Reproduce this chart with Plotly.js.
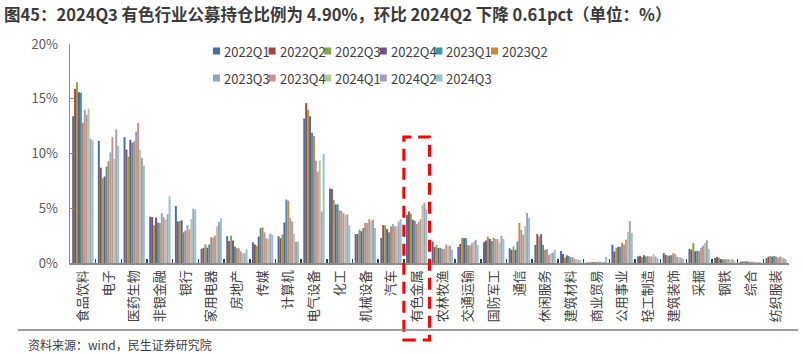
<!DOCTYPE html>
<html>
<head>
<meta charset="utf-8">
<script src="https://cdn.plot.ly/plotly-3.0.1.min.js"></script>
<style>
  html, body { margin: 0; padding: 0; background: #ffffff; }
  #chart { width: 803px; height: 354px; }
</style>
</head>
<body>
<div id="chart"></div>
<script>
// ---------- data ----------
const categories = ['食品饮料','电子','医药生物','非银金融','银行','家用电器','房地产','传媒','计算机','电气设备','化工','机械设备','汽车','有色金属','农林牧渔','交通运输','国防军工','通信','休闲服务','建筑材料','商业贸易','公用事业','轻工制造','建筑装饰','采掘','钢铁','综合','纺织服装'];

const seriesNames = ['2022Q1','2022Q2','2022Q3','2022Q4','2023Q1','2023Q2','2023Q3','2023Q4','2024Q1','2024Q2','2024Q3'];

const s2022Q1 = [13.4, 11.15, 11.5, 4.23, 5.2, 1.3, 2.45, 1.9, 2.45, 13.2, 6.8, 2.65, 2.27, 4.4, 1.96, 1.47, 1.9, 1.35, 1.65, 1.1, 0.05, 1.67, 0.6, 0.9, 1.29, 0.46, 0.1, 0.43];
const s2022Q2 = [15.9, 8.7, 10.35, 4.2, 3.8, 1.38, 2.0, 1.7, 2.27, 14.6, 6.75, 2.65, 3.45, 4.7, 1.45, 1.75, 2.05, 1.2, 2.64, 0.83, 0.05, 1.05, 0.66, 0.75, 1.21, 0.56, 0.12, 0.58];
const s2022Q3 = [16.5, 7.75, 9.7, 3.45, 3.85, 1.7, 2.5, 1.55, 2.6, 14.0, 5.75, 3.05, 3.45, 4.5, 1.62, 2.3, 2.4, 1.5, 2.42, 0.49, 0.05, 1.36, 0.54, 0.68, 1.82, 0.47, 0.15, 0.64];
const s2022Q4 = [15.6, 7.9, 11.25, 4.15, 3.9, 1.4, 2.05, 2.4, 3.7, 13.4, 5.35, 2.9, 3.1, 3.95, 1.38, 2.27, 2.2, 1.2, 2.64, 0.7, 0.08, 1.48, 0.72, 0.68, 1.08, 0.37, 0.15, 0.58];
const s2023Q1 = [15.55, 8.8, 11.0, 3.7, 2.8, 1.7, 1.5, 3.2, 5.8, 11.9, 5.35, 3.2, 2.8, 3.85, 1.38, 2.27, 2.0, 1.96, 1.65, 0.64, 0.1, 1.48, 0.6, 0.72, 1.12, 0.32, 0.12, 0.64];
const s2023Q2 = [12.8, 9.3, 11.1, 3.65, 2.97, 2.35, 1.35, 3.25, 5.7, 11.6, 4.8, 3.65, 3.35, 3.55, 1.29, 1.65, 2.3, 3.65, 1.2, 0.55, 0.1, 1.85, 0.64, 0.9, 1.08, 0.35, 0.12, 0.58];
const s2023Q3 = [14.0, 10.1, 12.0, 4.55, 3.45, 2.33, 1.35, 2.8, 4.1, 9.35, 4.75, 3.65, 3.55, 3.75, 1.29, 1.6, 2.18, 3.04, 1.26, 0.55, 0.12, 1.7, 0.6, 0.8, 1.4, 0.35, 0.12, 0.49];
const s2023Q4 = [13.55, 11.5, 12.8, 4.17, 3.07, 2.5, 1.07, 2.25, 3.8, 8.35, 4.55, 4.0, 3.35, 4.0, 1.69, 1.8, 2.18, 2.58, 0.74, 0.37, 0.12, 2.13, 0.6, 0.56, 1.6, 0.35, 0.1, 0.58];
const s2024Q1 = [14.1, 9.5, 10.35, 3.95, 4.0, 3.35, 0.9, 2.25, 2.65, 9.35, 4.4, 3.85, 3.35, 5.3, 1.56, 1.96, 1.87, 3.4, 0.89, 0.37, 0.1, 2.85, 0.8, 0.54, 1.82, 0.28, 0.08, 0.52];
const s2024Q2 = [11.35, 12.2, 9.6, 4.45, 4.97, 3.75, 0.9, 2.7, 1.95, 4.7, 4.45, 3.95, 3.8, 5.51, 1.6, 2.1, 2.48, 4.57, 0.95, 0.28, 0.1, 3.83, 0.6, 0.5, 2.07, 0.35, 0.08, 0.43];
const s2024Q3 = [11.2, 10.7, 8.9, 6.1, 4.9, 4.08, 1.25, 2.6, 1.95, 9.95, 3.45, 3.2, 4.0, 4.90, 1.2, 1.62, 2.2, 4.1, 1.2, 0.28, 0.55, 2.75, 0.46, 0.38, 1.29, 0.2, 0.08, 0.34];

const seriesValues = [s2022Q1, s2022Q2, s2022Q3, s2022Q4, s2023Q1, s2023Q2, s2023Q3, s2023Q4, s2024Q1, s2024Q2, s2024Q3];
const yTickVals = [0, 5, 10, 15, 20];
const highlightCategory = '有色金属';

// ---------- styles ----------
const seriesColors = ['#416FA6','#A8423F','#86A44A','#6E548D','#3D96AE','#DA8137','#8EA5CB','#CE8E8D','#B5CA92','#A99BBD','#8FC3D4'];
const FONT = '"Noto Sans CJK SC", "Noto Sans", sans-serif';

const W = 803, H = 354;
const M = {l: 70, r: 14, t: 44, b: 91};
const plotW = W - M.l - M.r, plotH = H - M.t - M.b;
const px2x = px => (px - M.l) / plotW;
const py2y = py => (H - M.b - py) / plotH;

const traces = seriesNames.map((name, i) => ({
  type: 'bar',
  name: name,
  x: categories,
  y: seriesValues[i],
  marker: {color: seriesColors[i], line: {width: 0}},
  hoverinfo: 'x+y+name',
  showlegend: false
}));

// custom legend (compact swatch + text), built from the series arrays
const shapes = [];
const annotations = [];
const legendX0 = 213, legendStep = 55.6, legendRows = [51, 78], perRow = 6, sw = 7;
seriesNames.forEach((name, i) => {
  const row = Math.floor(i / perRow), col = i % perRow;
  const cx = legendX0 + col * legendStep;
  const cy = legendRows[row];
  shapes.push({
    type: 'rect', xref: 'paper', yref: 'paper',
    x0: px2x(cx), x1: px2x(cx + sw), y0: py2y(cy + sw / 2), y1: py2y(cy - sw / 2),
    fillcolor: seriesColors[i], line: {width: 0}
  });
  annotations.push({
    text: name, xref: 'paper', yref: 'paper',
    x: px2x(cx + sw + 2), y: py2y(cy), xanchor: 'left', yanchor: 'middle',
    showarrow: false, font: {family: FONT, size: 13, color: '#404040'}
  });
});

// highlight box around the category
const hi = categories.indexOf(highlightCategory);
shapes.push({
  type: 'rect', xref: 'x domain', yref: 'y domain',
  x0: hi / categories.length, x1: (hi + 1) / categories.length,
  y0: py2y(340), y1: py2y(137),
  line: {color: '#FF0000', width: 3, dash: '12px,7px'},
  fillcolor: 'rgba(0,0,0,0)', layer: 'above'
});

// bottom separator line
shapes.push({
  type: 'line', xref: 'paper', yref: 'paper',
  x0: px2x(18), x1: px2x(798), y0: py2y(330), y1: py2y(330),
  line: {color: '#7F7F7F', width: 1.5}
});

annotations.push({
  text: '资料来源：wind，民生证券研究院',
  xref: 'paper', yref: 'paper', x: px2x(26), y: py2y(344),
  xanchor: 'left', yanchor: 'middle', showarrow: false,
  font: {family: FONT, size: 12, color: '#404040'}
});

const layout = {
  width: W, height: H,
  margin: M,
  paper_bgcolor: '#ffffff', plot_bgcolor: '#ffffff',
  font: {family: FONT, color: '#404040'},
  title: {
    text: '图45：2024Q3 有色行业公募持仓比例为 4.90%，环比 2024Q2 下降 0.61pct（单位：%）',
    x: 4 / W, xref: 'container', xanchor: 'left',
    y: 1 - 15 / H, yref: 'container', yanchor: 'middle',
    font: {family: FONT, size: 16.5, color: '#3A3A3A', weight: 'bold'}
  },
  barmode: 'group',
  bargap: 0.17,
  bargroupgap: 0,
  showlegend: false,
  xaxis: {
    type: 'category',
    categoryorder: 'array', categoryarray: categories,
    range: [-0.5, categories.length - 0.5],
    tickangle: -90,
    tickfont: {family: FONT, size: 13, color: '#404040'},
    ticks: 'inside', tickson: 'boundaries', ticklen: 4, tickwidth: 1.5, tickcolor: '#404040',
    showline: true, linecolor: '#8C8C8C', linewidth: 2,
    showgrid: false, zeroline: false, fixedrange: true
  },
  yaxis: {
    range: [0, 20],
    tickvals: yTickVals,
    ticktext: yTickVals.map(v => v + '%'),
    tickfont: {family: FONT, size: 13, color: '#595959'},
    ticks: 'inside', ticklen: 4, tickwidth: 1.2, tickcolor: '#8C8C8C',
    ticklabelstandoff: 8,
    showline: true, linecolor: '#8C8C8C', linewidth: 1.5,
    showgrid: false, zeroline: false, fixedrange: true
  },
  shapes: shapes,
  annotations: annotations
};

Plotly.newPlot('chart', traces, layout, {displayModeBar: false, staticPlot: true});
</script>
</body>
</html>
